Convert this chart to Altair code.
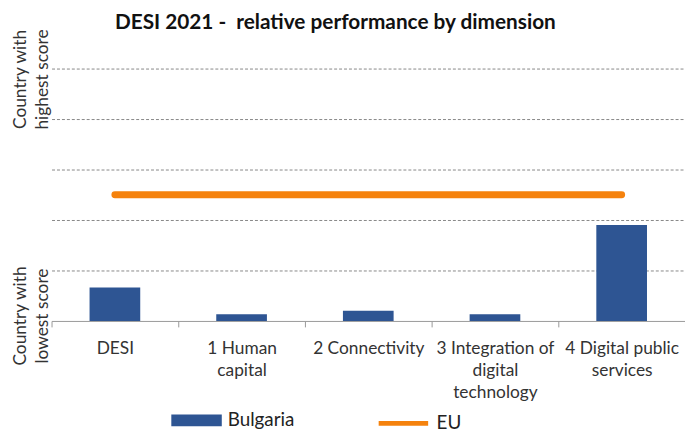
import altair as alt
import pandas as pd

categories = ["DESI", "1 Human capital", "2 Connectivity",
              "3 Integration of digital technology", "4 Digital public services"]
label_lines = [["DESI"], ["1 Human", "capital"], ["2 Connectivity"],
               ["3 Integration of", "digital", "technology"],
               ["4 Digital public", "services"]]
bulgaria = [0.133, 0.027, 0.04, 0.027, 0.38]
eu = [0.5, 0.5, 0.5, 0.5, 0.5]

df = pd.DataFrame({"cat": categories, "Bulgaria": bulgaria, "EU": eu,
                   "s1": ["Bulgaria"] * 5, "s2": ["EU"] * 5})

FONT = "Lato"
NAVY = "#2E5593"
ORANGE = "#F5820D"

parts = []
for c, ls in zip(categories, label_lines):
    arr = "[" + ",".join("'" + l + "'" for l in ls) + "]"
    parts.append(f"datum.value == '{c}' ? {arr}")
label_expr = " : ".join(parts) + " : datum.value"

xenc = alt.X("cat:N", sort=categories, title=None,
             scale=alt.Scale(paddingInner=0, paddingOuter=0),
             axis=alt.Axis(labelAngle=0, labelExpr=label_expr, labelFont=FONT,
                           labelFontSize=17.5, labelColor="#333", labelPadding=13,
                           labelLineHeight=22, labelBaseline="top",
                           domainColor="#999", tickColor="#999", tickSize=6,
                           tickBand="extent", grid=False, labelLimit=200))
yscale = alt.Scale(domain=[0, 1])
yaxis = alt.Axis(title=None, labels=False, ticks=False, domain=False,
                 grid=True, gridDash=[3, 2], gridColor="#888",
                 values=[0.2, 0.4, 0.6, 0.8, 1.0])

bars = alt.Chart(df).mark_bar(width=alt.RelativeBandSize(0.4)).encode(
    x=xenc,
    y=alt.Y("Bulgaria:Q", scale=yscale, axis=yaxis),
    fill=alt.Fill("s1:N", scale=alt.Scale(domain=["Bulgaria"], range=[NAVY]),
                  legend=alt.Legend(title=None, orient="none", legendX=121, legendY=330,
                                    padding=0, symbolType="M-1,-0.23L1,-0.23L1,0.23L-1,0.23Z",
                                    symbolSize=2600, symbolStrokeWidth=0,
                                    labelFont=FONT, labelFontSize=19, labelColor="#222",
                                    labelOffset=6)),
)

line = alt.Chart(df).mark_line(strokeWidth=7, strokeCap="round").encode(
    x=alt.X("cat:N", sort=categories),
    y=alt.Y("EU:Q", scale=yscale),
    stroke=alt.Stroke("s2:N", scale=alt.Scale(domain=["EU"], range=[ORANGE]),
                      legend=alt.Legend(title=None, orient="none", legendX=328, legendY=331,
                                        padding=0, symbolType="stroke", symbolSize=2500,
                                        symbolStrokeWidth=5,
                                        labelFont=FONT, labelFontSize=19, labelColor="#222",
                                        labelOffset=6)),
)

ann = pd.DataFrame({"v": [1.0], "t": ["Country with|highest score"]})
ann2 = pd.DataFrame({"v": [0.0], "t": ["Country with|lowest score"]})
top_txt = alt.Chart(ann).mark_text(angle=270, lineBreak="|", font=FONT, fontSize=17.5,
                                   color="#333", align="center", baseline="middle",
                                   lineHeight=22, dx=-11).encode(
    x=alt.value(-31), y=alt.Y("v:Q", scale=yscale), text="t:N")
bot_txt = alt.Chart(ann2).mark_text(angle=270, lineBreak="|", font=FONT, fontSize=17.5,
                                    color="#333", align="center", baseline="middle",
                                    lineHeight=22, dx=5).encode(
    x=alt.value(-31), y=alt.Y("v:Q", scale=yscale), text="t:N")

chart = alt.layer(bars, line, top_txt, bot_txt).resolve_scale(fill="independent", stroke="independent").properties(
    width=640, height=255,
    autosize=alt.AutoSizeParams(type="none"),
    padding={"left": 44, "top": 59, "right": 0, "bottom": 110},
    title=alt.TitleParams("DESI 2021 -\u00a0 relative performance by dimension",
                          font=FONT, fontSize=21, fontWeight="bold", color="#111",
                          anchor="start", dx=104, offset=-4),
).configure_view(stroke=None)

chart.save("out.html", embed_options={"renderer": "svg", "actions": False})
